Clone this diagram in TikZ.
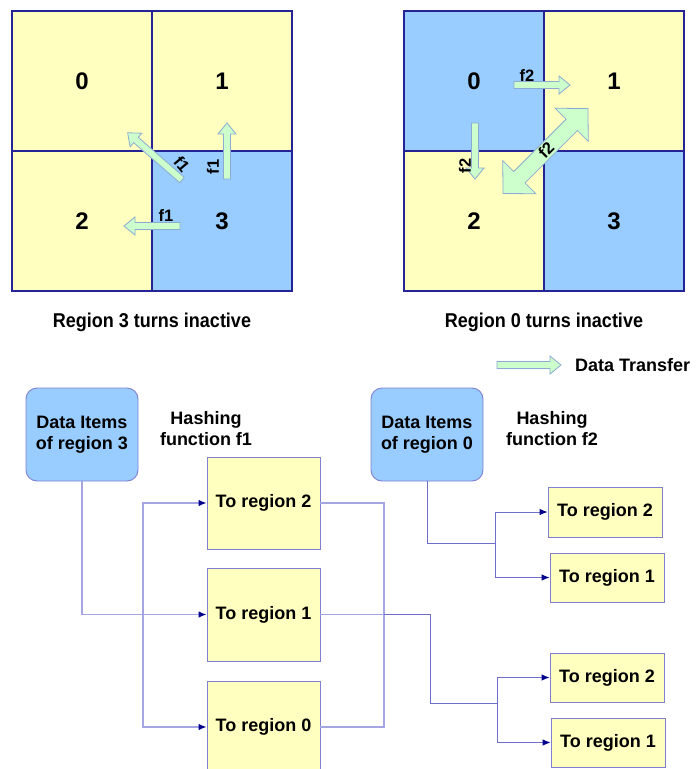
\documentclass[tikz,border=0pt]{standalone}
\usepackage{fontspec}
\setmainfont{Liberation Sans}
\usetikzlibrary{arrows.meta,calc}

\definecolor{cellyellow}{RGB}{255,255,192}
\definecolor{cellblue}{RGB}{153,204,255}
\definecolor{gridline}{RGB}{36,36,150}
\definecolor{xferfill}{RGB}{204,255,204}
\definecolor{xferline}{RGB}{140,170,210}
\definecolor{boxline}{RGB}{128,128,210}
\definecolor{wirelight}{RGB}{165,165,228}
\definecolor{wiredark}{RGB}{110,110,205}
\definecolor{tipblue}{RGB}{0,0,140}

% single block arrow: tail point (x,y), direction angle, length
\newcommand{\xferarrow}[4]{%
  \begin{scope}[shift={(#1,#2)},rotate=#3]
    \draw[xfer] (0,3.5) -- (#4-11,3.5) -- (#4-11,9) -- (#4,0)
      -- (#4-11,-9) -- (#4-11,-3.5) -- (0,-3.5) -- cycle;
  \end{scope}}

\begin{document}
\begin{tikzpicture}[x=1pt,y=-1pt,
  cell/.style={draw=gridline,line width=1.6pt,minimum width=140pt,minimum height=140pt,
    inner sep=0pt},
  digit/.style={font=\fontsize{24}{26}\selectfont\bfseries,inner sep=0pt},
  xfer/.style={fill=xferfill,draw=xferline,line width=0.8pt,line join=miter},
  flabel/.style={font=\fontsize{16.5}{17}\selectfont\bfseries,inner sep=0pt},
  title/.style={font=\fontsize{20}{22}\selectfont\bfseries,inner sep=0pt},
  txt/.style={font=\fontsize{18}{21}\selectfont\bfseries,align=center,inner sep=0pt},
  source/.style={txt,draw=boxline,fill=cellblue,rounded corners=11pt,line width=0.9pt,
    minimum width=112pt,minimum height=93pt},
  target/.style={txt,draw=boxline,fill=cellyellow,line width=0.9pt,minimum width=113pt},
  wire/.style={draw=wirelight,line width=1.3pt},
  wirethin/.style={draw=wiredark,line width=0.9pt},
  tip/.style={-{Latex[length=8pt,width=6.5pt,color=tipblue]}}]

\useasboundingbox (0,0) rectangle (696,769);

% ---- left grid: region 3 inactive ----
\node[cell,fill=cellyellow] (l0) at (82,81) {};
\node[cell,fill=cellyellow] (l1) at (222,81) {};
\node[cell,fill=cellyellow] (l2) at (82,221) {};
\node[cell,fill=cellblue]   (l3) at (222,221) {};
\node[digit] (n0) at (l0.center) {0};
\node[digit] (n1) at (l1.center) {1};
\node[digit] (n2) at (l2.center) {2};
\node[digit] (n3) at (l3.center) {3};

\xferarrow{182}{180}{139}{72}
\xferarrow{227}{179}{90}{56}
\xferarrow{180}{226}{180}{56}
\node[flabel,rotate=-50] (fa) at (182,164) {f1};
\node[flabel,rotate=90]  (fb) at (213,167) {f1};
\node[flabel]            (fc) at (166,216) {f1};

\node[title] (t1) at (152,322) {\scalebox{0.9}[1]{Region 3 turns inactive}};

% ---- right grid: region 0 inactive ----
\node[cell,fill=cellblue]   (r0) at (474,81) {};
\node[cell,fill=cellyellow] (r1) at (614,81) {};
\node[cell,fill=cellyellow] (r2) at (474,221) {};
\node[cell,fill=cellblue]   (r3) at (614,221) {};
\node[digit] (m0) at (r0.center) {0};
\node[digit] (m1) at (r1.center) {1};
\node[digit] (m2) at (r2.center) {2};
\node[digit] (m3) at (r3.center) {3};

\xferarrow{514}{85}{0}{56}
\xferarrow{475}{123}{-90}{56}
\begin{scope}[shift={(545.5,151)},rotate=45]
  \draw[xfer] (-37,8) -- (37,8) -- (37,23.5) -- (60,0) -- (37,-23.5) -- (37,-8)
    -- (-37,-8) -- (-37,-23.5) -- (-60,0) -- (-37,23.5) -- cycle;
\end{scope}
\node[flabel] (fd) at (527,76) {f2};
\node[flabel,rotate=90] (fe) at (465,166) {f2};
\node[flabel,rotate=45] (ff) at (546,150) {f2};

\node[title] (t2) at (544,322) {\scalebox{0.9}[1]{Region 0 turns inactive}};

% ---- legend ----
\xferarrow{497}{365}{0}{64}
\node[txt,anchor=west] (leg) at (575,365) {Data Transfer};

% ---- hashing with f1 ----
\node[source] (ds3) at (82,434.5) {Data Items\\of region 3};
\node[txt] (h1) at (206,428.5) {Hashing\\function f1};
\node[target,minimum height=92pt] (ta2) at (263.5,503) {To region 2};
\node[target,minimum height=93pt] (ta1) at (263.5,614.5) {To region 1};
\node[target,minimum height=92pt] (ta0) at (263.5,727) {To region 0};

\coordinate (busin) at (143,614.5);
\coordinate (busout) at (384,614.5);
\draw[wire,tip] (ds3.south) |- (ta1.west);
\draw[wire,tip] (busin) |- (ta2.west);
\draw[wire,tip] (busin) |- (ta0.west);
\draw[wire] (ta2.east) -| (busout);
\draw[wire] (ta0.east) -| (busout);
\draw[wire] (ta1.east) -- (busout);

% ---- hashing with f2 ----
\node[source] (ds0) at (427,434.5) {Data Items\\of region 0};
\node[txt] (h2) at (552,428.5) {Hashing\\function f2};
\node[target,minimum width=114pt,minimum height=50pt] (tb2) at (605,512) {To region 2};
\node[target,minimum width=114pt,minimum height=49pt] (tb1) at (607,577.5) {To region 1};
\node[target,minimum width=114pt,minimum height=49pt] (tc2) at (607,677.5) {To region 2};
\node[target,minimum width=114pt,minimum height=49pt] (tc1) at (608,742.5) {To region 1};

\coordinate (splitA) at (495,543);
\coordinate (splitB) at (497,703);
\draw[wirethin] (ds0.south) |- (splitA);
\draw[wirethin,tip] (splitA) |- (tb2.west);
\draw[wirethin,tip] (splitA) |- (tb1.west);
\draw[wirethin] (busout) -- ++(46,0) |- (splitB);
\draw[wirethin,tip] (splitB) |- (tc2.west);
\draw[wirethin,tip] (splitB) |- (tc1.west);

\end{tikzpicture}
\end{document}
